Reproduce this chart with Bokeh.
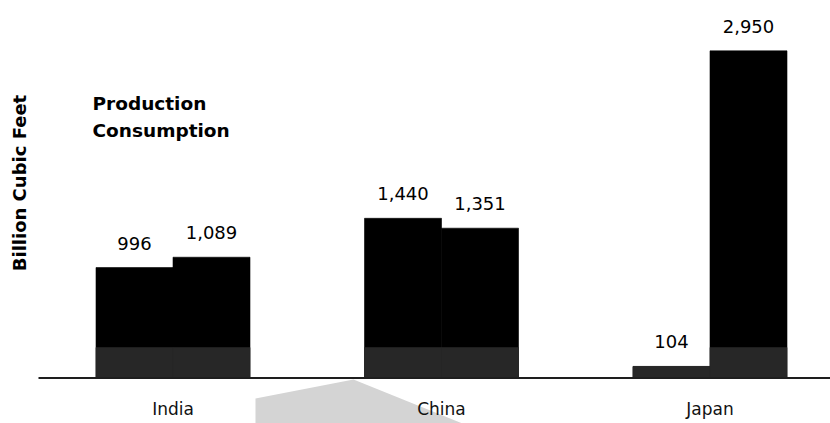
import numpy as np
from bokeh.plotting import figure
from bokeh.models import ColumnDataSource, Range1d
from bokeh.transform import dodge
from bokeh.core.properties import value
from bokeh.embed import file_html
from bokeh.resources import INLINE

# Natural gas, billion cubic feet
countries = ["India", "China", "Japan"]
production = [996, 1440, 104]
consumption = [1089, 1351, 2950]
series_names = ["Production", "Consumption"]
y_title = "Billion Cubic Feet"

# Canvas geometry (pixels)
W, H = 830, 423
GROUP_PX = 268.5        # distance between country groups
FIRST_GROUP_PX = 172.5  # centre of first group from the left edge
BAR_PX = 77             # width of one bar
BASE_PX = 377.5         # baseline, measured from the top
UNIT_PX = 0.1109        # pixels per billion cubic feet
FLOOR = 275             # top of the darker base band

x_start = -FIRST_GROUP_PX / GROUP_PX
x_end = x_start + W / GROUP_PX
y_start = -(H - BASE_PX) / UNIT_PX
y_end = BASE_PX / UNIT_PX


def to_data(px, py):
    """Canvas pixel (origin top-left) to data coordinates."""
    return x_start + px / GROUP_PX, (BASE_PX - py) / UNIT_PX


p = figure(width=W, height=H, x_range=Range1d(x_start, x_end),
           y_range=Range1d(y_start, y_end), x_axis_type=None, y_axis_type=None,
           output_backend="svg", toolbar_location=None, min_border=0)
p.grid.visible = False
p.outline_line_color = None
p.background_fill_color = "white"
p.border_fill_color = "white"

bw = BAR_PX / GROUP_PX
xs = np.arange(len(countries))
src = ColumnDataSource(dict(
    x=xs,
    country=countries,
    prod=production,
    cons=consumption,
    prod_floor=np.minimum(production, FLOOR),
    cons_floor=np.minimum(consumption, FLOOR),
    prod_lbl=[f"{v:,}" for v in production],
    cons_lbl=[f"{v:,}" for v in consumption],
))

# pale grey wedge under the axis
wedge = [(255, 423), (255, 398), (353, 379), (462, 423)]
wx, wy = zip(*[to_data(a, b) for a, b in wedge])
p.patch(list(wx), list(wy), fill_color="#d4d4d4", line_color=None)

left = dodge("x", -bw / 2, range=p.x_range)
right = dodge("x", bw / 2, range=p.x_range)
pairs = ((left, "prod", "prod_floor", "prod_lbl"),
         (right, "cons", "cons_floor", "cons_lbl"))

# black bars first, then the darker base band over all of them
for pos, top, _, _ in pairs:
    p.vbar(x=pos, top=top, bottom=0, width=bw, source=src,
           fill_color="black", line_color="black", line_width=0.6)
for pos, _, floor, _ in pairs:
    p.vbar(x=pos, top=floor, bottom=0, width=bw, source=src,
           fill_color="#272727", line_color="#272727", line_width=0.6)

# baseline
bx0, _ = to_data(38, 0)
p.segment(x0=bx0, y0=0, x1=x_end, y1=0, line_color="#1e1e1e", line_width=2)

# value labels
for pos, top, _, lbl in pairs:
    p.text(x=pos, y=top, text=lbl, source=src, y_offset=-24.5,
           text_align="center", text_baseline="middle",
           text_font=value("DejaVu Sans"), text_font_size="18px",
           text_color="black")

# country names
_, cy = to_data(0, 408)
p.text(x="x", y=cy, text="country", source=src,
       text_align="center", text_baseline="middle",
       text_font=value("DejaVu Sans"), text_font_size="17px",
       text_color="#111111")

# series names
lx, ly1 = to_data(92, 102.5)
_, ly2 = to_data(92, 130)
p.text(x=[lx, lx], y=[ly1, ly2], text=series_names,
       text_align="left", text_baseline="middle",
       text_font=value("DejaVu Sans"), text_font_style="bold",
       text_font_size="18.5px", text_color="black")

# vertical axis title
tx, ty = to_data(19, 182.5)
p.text(x=[tx], y=[ty], text=[y_title], angle=np.pi / 2,
       text_align="center", text_baseline="middle",
       text_font=value("DejaVu Sans"), text_font_style="bold",
       text_font_size="18px", text_color="black")

open("out.html", "w").write(file_html(p, INLINE))
